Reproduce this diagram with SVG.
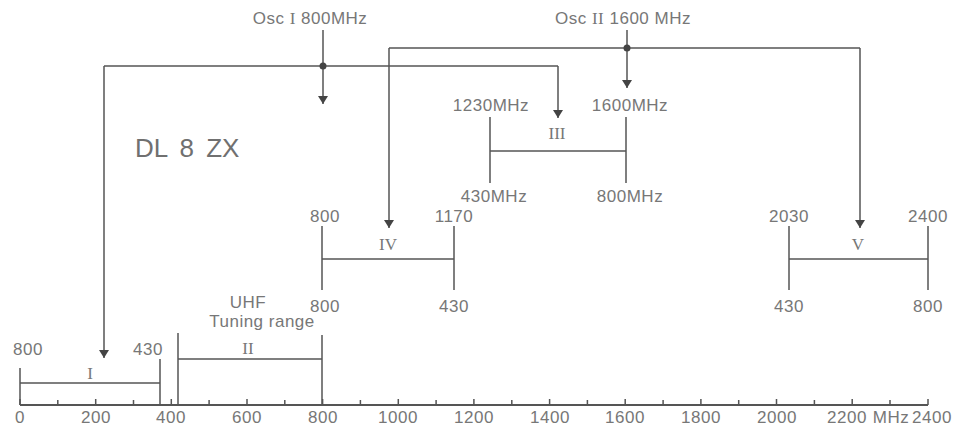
<svg xmlns="http://www.w3.org/2000/svg" width="954" height="429" viewBox="0 0 954 429">
<defs>
<style>
.ln{stroke:#555;stroke-width:1.5;fill:none}
.ax{stroke:#555;stroke-width:2;fill:none}
.t{font-family:"Liberation Sans",Arial,sans-serif;font-size:17px;fill:#777;letter-spacing:0.5px}
.tc{text-anchor:middle}
.r{font-family:"Liberation Serif","Times New Roman",serif;font-size:17px;fill:#777}
.big{font-family:"Liberation Sans",Arial,sans-serif;font-size:26px;fill:#707070;word-spacing:5px}
</style>
<marker id="ah" viewBox="0 0 8 12" refX="8" refY="6" markerWidth="8" markerHeight="12" markerUnits="userSpaceOnUse" orient="auto">
<path d="M0,1 L8,6 L0,11 Z" fill="#444"/>
</marker>
</defs>
<rect width="954" height="429" fill="#fff"/>

<g id="axis">
<line class="ax" x1="20" y1="405" x2="928" y2="405"/>
<path class="ln" d="M20,399V405 M57.8,400V405 M95.7,399V405 M133.5,400V405 M171.3,399V405 M209.1,400V405 M247,399V405 M284.8,400V405 M322.6,399V405 M360.4,400V405 M398.3,399V405 M436.1,400V405 M473.9,399V405 M511.8,400V405 M549.6,399V405 M587.4,400V405 M625.2,399V405 M663.1,400V405 M700.9,399V405 M738.7,400V405 M776.5,399V405 M814.4,400V405 M852.2,399V405 M890,400V405 M928,399V405"/>
<g class="t tc">
<text x="20" y="423">0</text>
<text x="96" y="423">200</text>
<text x="171" y="423">400</text>
<text x="247" y="423">600</text>
<text x="323" y="423">800</text>
<text x="398" y="423">1000</text>
<text x="474" y="423">1200</text>
<text x="550" y="423">1400</text>
<text x="625" y="423">1600</text>
<text x="701" y="423">1800</text>
<text x="777" y="423">2000</text>
<text x="847" y="423">2200</text>
<text x="891" y="423">MHz</text>
<text x="932" y="423">2400</text>
</g>
</g>

<g id="title"><text class="big" x="135" y="157">DL 8 ZX</text></g>

<g id="range-I">
<path class="ln" d="M20,368V405 M160,359V405 M20,383H160"/>
<text class="t tc" x="28" y="355">800</text>
<text class="t tc" x="148" y="355">430</text>
<text class="r tc" x="90" y="379">I</text>
</g>

<g id="range-II">
<path class="ln" d="M178,333V405 M322,335V405 M178,359H322"/>
<text class="r tc" x="248" y="354">II</text>
<text class="t tc" x="248" y="308">UHF</text>
<text class="t tc" x="262" y="327">Tuning range</text>
</g>

<g id="range-III">
<path class="ln" d="M490,117V183 M626,117V183 M490,151H626"/>
<text class="t tc" x="491" y="111">1230MHz</text>
<text class="t tc" x="630" y="111">1600MHz</text>
<text class="t tc" x="494" y="202">430MHz</text>
<text class="t tc" x="630" y="202">800MHz</text>
<text class="r tc" x="557" y="139">III</text>
</g>

<g id="range-IV">
<path class="ln" d="M322,226V290 M454,226V290 M322,259H454"/>
<text class="t tc" x="325" y="222">800</text>
<text class="t tc" x="454" y="222">1170</text>
<text class="t tc" x="325" y="312">800</text>
<text class="t tc" x="454" y="312">430</text>
<text class="r tc" x="388" y="250">IV</text>
</g>

<g id="range-V">
<path class="ln" d="M789,226V290 M928,226V290 M789,259H928"/>
<text class="t tc" x="789" y="222">2030</text>
<text class="t tc" x="928" y="222">2400</text>
<text class="t tc" x="789" y="312">430</text>
<text class="t tc" x="928" y="312">800</text>
<text class="r tc" x="858" y="250">V</text>
</g>

<g id="osc-I">
<text class="t tc" x="310" y="24">Osc <tspan class="r">I</tspan> 800MHz</text>
</g>
<g id="osc-II">
<text class="t tc" x="623" y="24">Osc <tspan class="r">II</tspan> 1600 MHz</text>
</g>

<g id="connectors">
<path class="ln" d="M323,30V104" marker-end="url(#ah)"/>
<path class="ln" d="M104,66H558"/>
<path class="ln" d="M104,66V358" marker-end="url(#ah)"/>
<path class="ln" d="M558,66V118" marker-end="url(#ah)"/>
<circle cx="323" cy="66" r="3.5" fill="#444"/>
<path class="ln" d="M627,30V88" marker-end="url(#ah)"/>
<path class="ln" d="M389,48H860"/>
<path class="ln" d="M389,48V228" marker-end="url(#ah)"/>
<path class="ln" d="M860,48V228" marker-end="url(#ah)"/>
<circle cx="627" cy="48" r="3.5" fill="#444"/>
</g>
</svg>
